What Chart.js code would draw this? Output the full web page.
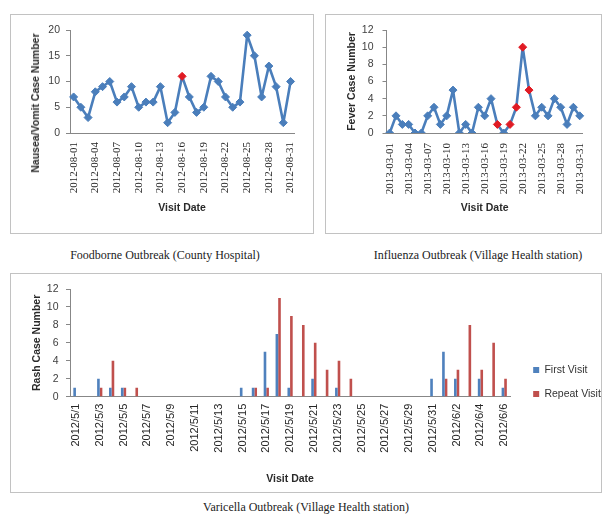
<!DOCTYPE html>
<html><head><meta charset="utf-8">
<script src="https://cdn.jsdelivr.net/npm/chart.js@4/dist/chart.umd.min.js"></script>
<style>
html,body{margin:0;padding:0;width:603px;height:514px;overflow:hidden;background:#fff;}
.panel{position:absolute;border:1px solid #c2c2c2;box-sizing:border-box;background:#fff;}
.cv{position:absolute;}
.cap{position:absolute;font-family:"Liberation Serif";font-size:12px;color:#222;white-space:nowrap;transform:translate(-50%,-50%);}
.ytitle{position:absolute;font-family:"Liberation Sans";font-weight:bold;font-size:10.5px;color:#2a2a2a;white-space:nowrap;transform:translate(-50%,-50%) rotate(-90deg);}
</style></head><body>
<div class="panel" style="left:10px;top:14px;width:304px;height:220px"></div>
<div class="panel" style="left:325px;top:14px;width:277px;height:220px"></div>
<div class="panel" style="left:10px;top:273px;width:592px;height:220px"></div>
<canvas id="c1" class="cv" width="303" height="219" style="left:10px;top:14px"></canvas>
<canvas id="c2" class="cv" width="278" height="219" style="left:325px;top:14px"></canvas>
<canvas id="c3" class="cv" width="602" height="219" style="left:10px;top:273px"></canvas>
<div class="ytitle" style="left:35px;top:102.5px">Nausea/Vomit Case Number</div>
<div class="cap" style="left:165px;top:255px">Foodborne Outbreak (County Hospital)</div>
<div class="cap" style="left:478px;top:255px">Influenza Outbreak (Village Health station)</div>
<div class="cap" style="left:306px;top:507px">Varicella Outbreak (Village Health station)</div>
<script>
// ---------- data ----------
const foodDates = ['2012-08-01','2012-08-02','2012-08-03','2012-08-04','2012-08-05','2012-08-06','2012-08-07','2012-08-08','2012-08-09','2012-08-10','2012-08-11','2012-08-12','2012-08-13','2012-08-14','2012-08-15','2012-08-16','2012-08-17','2012-08-18','2012-08-19','2012-08-20','2012-08-21','2012-08-22','2012-08-23','2012-08-24','2012-08-25','2012-08-26','2012-08-27','2012-08-28','2012-08-29','2012-08-30','2012-08-31'];
const foodCases = [7,5,3,8,9,10,6,7,9,5,6,6,9,2,4,11,7,4,5,11,10,7,5,6,19,15,7,13,9,2,10];
const foodTickLabels = ['2012-08-01','2012-08-04','2012-08-07','2012-08-10','2012-08-13','2012-08-16','2012-08-19','2012-08-22','2012-08-25','2012-08-28','2012-08-31'];
const foodAlertDates = ['2012-08-16'];

const fluDates = ['2013-03-01','2013-03-02','2013-03-03','2013-03-04','2013-03-05','2013-03-06','2013-03-07','2013-03-08','2013-03-09','2013-03-10','2013-03-11','2013-03-12','2013-03-13','2013-03-14','2013-03-15','2013-03-16','2013-03-17','2013-03-18','2013-03-19','2013-03-20','2013-03-21','2013-03-22','2013-03-23','2013-03-24','2013-03-25','2013-03-26','2013-03-27','2013-03-28','2013-03-29','2013-03-30','2013-03-31'];
const fluCases = [0,2,1,1,0,0,2,3,1,2,5,0,1,0,3,2,4,1,0,1,3,10,5,2,3,2,4,3,1,3,2];
const fluTickLabels = ['2013-03-01','2013-03-04','2013-03-07','2013-03-10','2013-03-13','2013-03-16','2013-03-19','2013-03-22','2013-03-25','2013-03-28','2013-03-31'];
const fluAlertDates = ['2013-03-18','2013-03-20','2013-03-21','2013-03-22','2013-03-23'];

const varDates = ['2012/5/1','2012/5/2','2012/5/3','2012/5/4','2012/5/5','2012/5/6','2012/5/7','2012/5/8','2012/5/9','2012/5/10','2012/5/11','2012/5/12','2012/5/13','2012/5/14','2012/5/15','2012/5/16','2012/5/17','2012/5/18','2012/5/19','2012/5/20','2012/5/21','2012/5/22','2012/5/23','2012/5/24','2012/5/25','2012/5/26','2012/5/27','2012/5/28','2012/5/29','2012/5/30','2012/5/31','2012/6/1','2012/6/2','2012/6/3','2012/6/4','2012/6/5','2012/6/6'];
const varFirstVisit  = [1,0,2,1,1,0,0,0,0,0,0,0,0,0,1,1,5,7,1,0,2,0,1,0,0,0,0,0,0,0,2,5,2,0,2,0,1];
const varRepeatVisit = [0,0,1,4,1,1,0,0,0,0,0,0,0,0,0,1,1,11,9,8,6,3,4,2,0,0,0,0,0,0,0,2,3,8,3,6,2];
const varTickLabels = ['2012/5/1','2012/5/3','2012/5/5','2012/5/7','2012/5/9','2012/5/11','2012/5/13','2012/5/15','2012/5/17','2012/5/19','2012/5/21','2012/5/23','2012/5/25','2012/5/27','2012/5/29','2012/5/31','2012/6/2','2012/6/4','2012/6/6'];
const seriesNames = ['First Visit','Repeat Visit'];

// ---------- styles ----------
const BLUE = '#4A7EBB', RED = '#E01B24', BAR_BLUE = '#4F81BD', BAR_RED = '#C0504D', AXIS = '#878787';
const SANS = 'Liberation Sans', SERIF = 'Liberation Serif';

function lineConfig(dates, cases, alerts, shown, o) {
  const pointColors = dates.map(d => alerts.includes(d) ? RED : BLUE);
  return {
    type: 'line',
    data: { labels: dates, datasets: [{
      data: cases, borderColor: BLUE, borderWidth: 2.6, tension: 0, borderJoinStyle: 'round',
      pointStyle: 'rectRot', pointRadius: 4, pointBorderWidth: 1,
      pointBackgroundColor: pointColors, pointBorderColor: pointColors
    }]},
    options: {
      responsive: false, animation: false, devicePixelRatio: 1,
      layout: { padding: { left: 0, top: 16, right: o.padR, bottom: 0 } },
      plugins: { legend: { display: false }, tooltip: { enabled: false } },
      scales: {
        x: {
          offset: true,
          grid: { display: false, drawTicks: false },
          border: { display: true, color: AXIS, width: 1 },
          ticks: { autoSkip: false, minRotation: 90, maxRotation: 90, padding: o.xPad,
            font: { family: SERIF, size: 11 }, color: '#262626',
            callback(v) { const l = this.getLabelForValue(v); return shown.includes(l) ? l : null; } },
          title: { display: true, text: 'Visit Date', font: { family: SANS, size: 10.5, weight: 'bold' }, color: '#2a2a2a', padding: { top: 0, bottom: o.xTitlePad } },
          afterFit(s) { s.height = o.xH; }
        },
        y: {
          min: 0, max: o.yMax,
          grid: { display: true, drawOnChartArea: false, drawTicks: true, tickLength: 4, color: AXIS },
          border: { display: true, color: AXIS, width: 1 },
          ticks: { stepSize: o.yStep, padding: o.yPad, font: { family: SANS, size: 10.5 }, color: '#404040' },
          title: { display: !!o.yTitle, text: o.yTitle || '', font: { family: SANS, size: 10.5, weight: 'bold' }, color: '#2a2a2a', padding: { top: o.yTitlePad || 0, bottom: 0 } },
          afterFit(s) { s.width = o.yW; }
        }
      }
    }
  };
}

new Chart(document.getElementById('c1'), lineConfig(foodDates, foodCases, foodAlertDates, foodTickLabels,
  { padR: 14, xPad: 9, xTitlePad: 18.7, xH: 100, yMax: 20, yStep: 5, yPad: 6, yW: 60 }));

new Chart(document.getElementById('c2'), lineConfig(fluDates, fluCases, fluAlertDates, fluTickLabels,
  { padR: 5.7, xPad: 10, xTitlePad: 18.7, xH: 100, yMax: 12, yStep: 2, yPad: 9, yW: 61.5, yTitle: 'Fever Case Number', yTitlePad: 20.7 }));

new Chart(document.getElementById('c3'), {
  type: 'bar',
  data: { labels: varDates, datasets: [
    { label: seriesNames[0], data: varFirstVisit, backgroundColor: BAR_BLUE, categoryPercentage: 0.44, barPercentage: 1 },
    { label: seriesNames[1], data: varRepeatVisit, backgroundColor: BAR_RED, categoryPercentage: 0.44, barPercentage: 1 }
  ]},
  options: {
    responsive: false, animation: false, devicePixelRatio: 1,
    layout: { padding: { left: 0, top: 0, right: 1.15, bottom: 1 } },
    plugins: {
      tooltip: { enabled: false },
      legend: { position: 'right', align: 'center',
        labels: { boxWidth: 6, boxHeight: 6, padding: 13.5, color: '#333', font: { family: SANS, size: 10.5 } } }
    },
    scales: {
      x: {
        grid: { display: false, drawTicks: false },
        border: { display: true, color: AXIS, width: 1 },
        ticks: { autoSkip: false, minRotation: 90, maxRotation: 90, padding: 7,
          font: { family: SANS, size: 11 }, color: '#262626',
          callback(v) { const l = this.getLabelForValue(v); return varTickLabels.includes(l) ? l : null; } },
        title: { display: true, text: 'Visit Date', font: { family: SANS, size: 10.5, weight: 'bold' }, color: '#2a2a2a', padding: { top: 0, bottom: 5.7 } },
        afterFit(s) { s.height = 94.3; }
      },
      y: {
        min: 0, max: 12,
        grid: { display: true, drawOnChartArea: false, drawTicks: true, tickLength: 4, color: AXIS },
        border: { display: true, color: AXIS, width: 1 },
        ticks: { stepSize: 2, padding: 7.5, font: { family: SANS, size: 10.5 }, color: '#404040' },
        title: { display: true, text: 'Rash Case Number', font: { family: SANS, size: 10.5, weight: 'bold' }, color: '#2a2a2a', padding: { top: 21.2, bottom: 0 } },
        afterFit(s) { s.width = 60; s.paddingTop = 16; }
      },
      spacer: {
        type: 'linear', position: 'right', display: true,
        grid: { display: false, drawTicks: false }, border: { display: false },
        ticks: { display: false }, title: { display: false },
        afterFit(s) { s.width = 9.5; }
      }
    }
  }
});
</script>
</body></html>
